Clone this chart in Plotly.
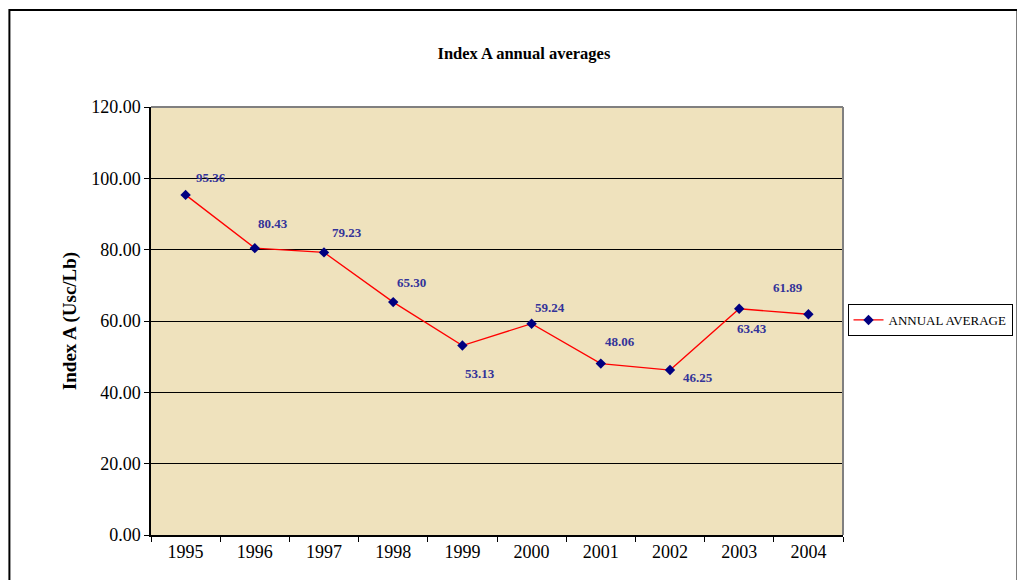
import plotly.graph_objects as go

years = ["1995", "1996", "1997", "1998", "1999", "2000", "2001", "2002", "2003", "2004"]
annual_average = [95.36, 80.43, 79.23, 65.30, 53.13, 59.24, 48.06, 46.25, 63.43, 61.89]
y_ticks = [0, 20, 40, 60, 80, 100, 120]

# data label offsets in pixels (style only)
label_dx = [25, 18, 23, 18, 18, 18, 19, 28, 13, -20]
label_dy = [17, 25, 20, 20, -28, 16, 22, -7, -20, 27]

SERIF = "Times New Roman, Liberation Serif, serif"
PAGE_OFF = 8  # default body margin of the html page
W, H = 1025 - PAGE_OFF, 580 - PAGE_OFF
L, R, T, B = 151 - PAGE_OFF, 180, 107 - PAGE_OFF, 45
pw, ph = W - L - R, H - T - B

fig = go.Figure()
fig.add_trace(go.Scatter(
    x=years, y=annual_average, mode="lines+markers", name="ANNUAL AVERAGE",
    line=dict(color="#FF0000", width=1.3),
    marker=dict(symbol="diamond", size=8, color="#000080", line=dict(width=0)),
))

# category index positions for data labels (numeric-looking category names)
for i, (y, dx, dy) in enumerate(zip(annual_average, label_dx, label_dy)):
    fig.add_annotation(x=i, y=y, xref="x", yref="y", text="<b>%.2f</b>" % y,
                       showarrow=False, xshift=dx, yshift=dy,
                       font=dict(family=SERIF, size=13, color="#333399"))


def px(page_x):
    return (page_x - PAGE_OFF - L) / pw


def py(page_y):
    return (H - B - (page_y - PAGE_OFF)) / ph


# outer chart border
fig.add_shape(type="rect", xref="paper", yref="paper",
              x0=px(9), x1=px(1020), y0=py(600), y1=py(10),
              line=dict(color="black", width=2), fillcolor="rgba(0,0,0,0)", layer="below")
# plot area top/right gray borders
fig.add_shape(type="line", xref="paper", yref="paper", x0=0, x1=1, y0=1, y1=1,
              line=dict(color="#808080", width=2))
fig.add_shape(type="line", xref="paper", yref="paper", x0=1, x1=1, y0=0, y1=1,
              line=dict(color="#808080", width=2))

fig.update_layout(
    width=W, height=H, autosize=False,
    margin=dict(l=L, r=R, t=T, b=B),
    paper_bgcolor="white",
    plot_bgcolor="#EFE2BD",
    font=dict(family=SERIF, size=18, color="black"),
    title=dict(text="<b>Index A annual averages</b>", xref="paper", x=px(525),
               xanchor="center", yref="container",
               y=1 - (53 - PAGE_OFF) / H, yanchor="middle",
               font=dict(size=16.5, color="black")),
    showlegend=True,
    legend=dict(x=px(1015), xanchor="right", y=py(320), yanchor="middle",
                bgcolor="white", bordercolor="black", borderwidth=1,
                font=dict(size=13), itemwidth=30),
    xaxis=dict(type="category", range=[-0.5, 9.5], showgrid=False,
               showline=True, linecolor="black", linewidth=1.5,
               ticks="outside", ticklen=5, tickcolor="black",
               tickson="boundaries", zeroline=False),
    yaxis=dict(range=[0, 120], tickvals=y_ticks, tickformat=".2f",
               showgrid=True, gridcolor="black", gridwidth=1,
               showline=True, linecolor="black", linewidth=1.5,
               ticks="outside", ticklen=5, tickcolor="black", zeroline=False,
               title=dict(text="<b>Index A (Usc/Lb)</b>", standoff=10,
                          font=dict(size=19))),
)

fig.write_html("out.html", config={"displayModeBar": False})
